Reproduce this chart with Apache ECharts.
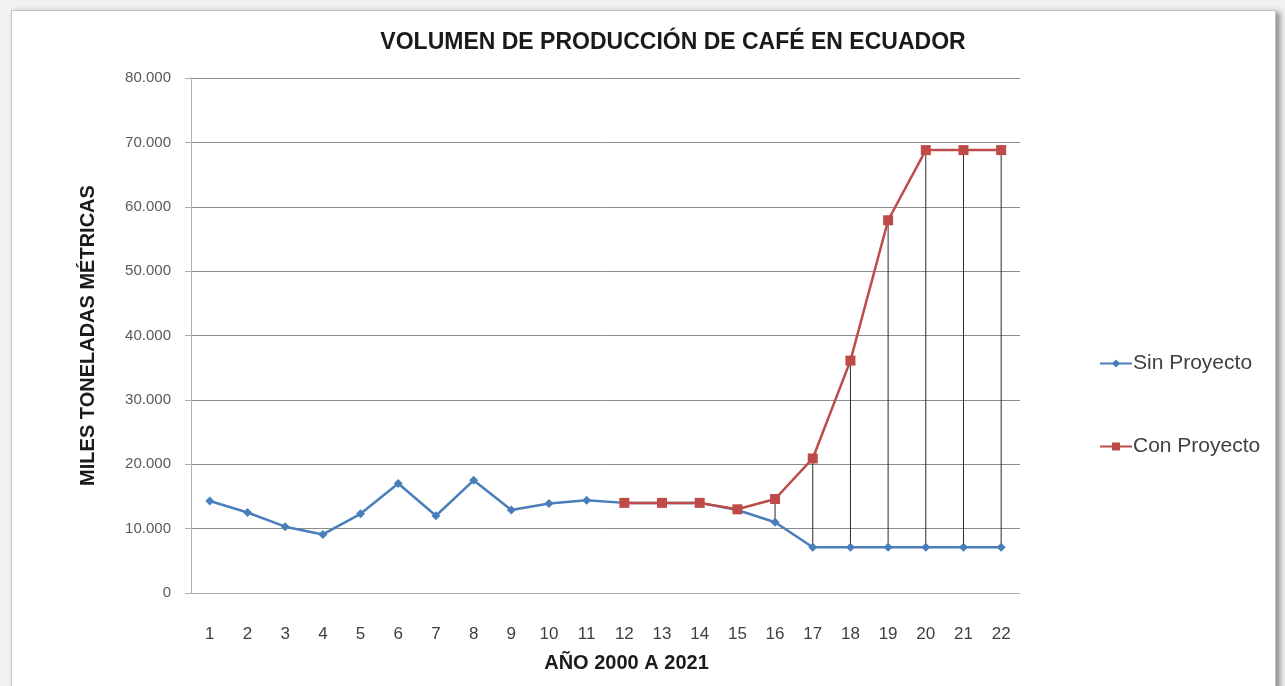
<!DOCTYPE html>
<html>
<head>
<meta charset="utf-8">
<script src="https://cdn.jsdelivr.net/npm/echarts@6/dist/echarts.min.js"></script>
<style>
    html, body { margin: 0; padding: 0; background: #f2f2f2; overflow: hidden; }
    #frame {
        position: absolute; left: 11px; top: 10px; width: 1263px; height: 700px;
        background: #fff; border: 1px solid #c4c4c4;
        box-shadow: 4px 2px 6px #8a8a8a;
    }
    #chart { position: absolute; left: 0; top: 0; width: 1285px; height: 686px; }
</style>
</head>
<body>
<div id="frame"></div>
<div id="chart"></div>
<script>
const years = ["1", "2", "3", "4", "5", "6", "7", "8", "9", "10", "11",
    "12", "13", "14", "15", "16", "17", "18", "19", "20", "21", "22"]
// miles de toneladas
const sinProyecto = [14.3, 12.5, 10.3, 9.1, 12.3, 17.0, 12.0, 17.5, 12.9, 13.9, 14.4,
    14.0, 14.0, 14.0, 12.9, 11.0, 7.1, 7.1, 7.1, 7.1, 7.1, 7.1]
const conProyecto = [null, null, null, null, null, null, null, null, null, null, null,
    14.0, 14.0, 14.0, 13.0, 14.6, 20.9, 36.1, 57.9, 68.8, 68.8, 68.8]
const yTicks = [0, 10, 20, 30, 40, 50, 60, 70, 80]

const font = "'Liberation Sans', sans-serif"

// lineas de maximos y minimos entre las dos series
const hiLo = years.map((y, i) => conProyecto[i] == null ? [i, null, null] : [i, sinProyecto[i], conProyecto[i]])

const chart = echarts.init(document.getElementById("chart"))
const option = {
    animation: false,
    title: {
        text: "VOLUMEN DE PRODUCCIÓN DE CAFÉ EN ECUADOR",
        left: 668,
        textAlign: "center",
        top: 26,
        textStyle: { fontFamily: font, fontSize: 23, fontWeight: "bold", color: "#1a1a1a" }
    },
    legend: {
        orient: "vertical",
        left: 1094,
        top: 348,
        itemGap: 62,
        itemWidth: 32,
        itemHeight: 10,
        textStyle: { fontFamily: font, fontSize: 21, color: "#404040", padding: [0, 0, 0, -4] },
        data: ["Sin Proyecto", "Con Proyecto"]
    },
    grid: { left: 191, right: 265, top: 78, bottom: 93 },
    xAxis: {
        type: "category",
        data: years,
        name: "AÑO 2000 A 2021",
        nameLocation: "middle",
        nameGap: 60,
        nameTextStyle: { fontFamily: font, fontSize: 20, fontWeight: "bold", color: "#1a1a1a", padding: [0, 0, 0, 42] },
        axisLine: { lineStyle: { color: "#b0b0b0", width: 1 } },
        axisTick: { show: false },
        axisLabel: { fontFamily: font, fontSize: 17, color: "#404040", margin: 33 }
    },
    yAxis: {
        type: "value",
        min: 0,
        max: 80,
        interval: 10,
        name: "MILES TONELADAS MÉTRICAS",
        nameLocation: "middle",
        nameGap: 93,
        nameTextStyle: { fontFamily: font, fontSize: 20, fontWeight: "bold", color: "#1a1a1a" },
        axisLine: { show: true, lineStyle: { color: "#b0b0b0", width: 1 } },
        axisTick: { show: true, length: 6, lineStyle: { color: "#b0b0b0" } },
        axisLabel: {
            fontFamily: font, fontSize: 15, color: "#595959", margin: 20,
            formatter: v => yTicks.includes(v) ? (v === 0 ? "0" : v + ".000") : ""
        },
        splitLine: { lineStyle: { color: "#8c8c8c", width: 1 } }
    },
    series: [
        {
            name: "hilo",
            type: "custom",
            data: hiLo,
            z: 1,
            silent: true,
            renderItem: (params, api) => {
                if (api.value(1) == null || isNaN(api.value(1))) return
                const a = api.coord([api.value(0), api.value(1)])
                const b = api.coord([api.value(0), api.value(2)])
                return {
                    type: "line",
                    shape: { x1: a[0], y1: a[1], x2: b[0], y2: b[1] },
                    style: { stroke: "#2b2b2b", lineWidth: 1 }
                }
            }
        },
        {
            name: "Sin Proyecto",
            type: "line",
            data: sinProyecto,
            z: 2,
            symbol: "diamond",
            symbolSize: 9,
            itemStyle: { color: "#4a7ebb" },
            lineStyle: { color: "#4a7ebb", width: 2.5 }
        },
        {
            name: "Con Proyecto",
            type: "line",
            data: conProyecto,
            z: 3,
            symbol: "rect",
            symbolSize: 10,
            itemStyle: { color: "#be4b48" },
            lineStyle: { color: "#be4b48", width: 2.5 }
        }
    ]
}
chart.setOption(option)
</script>
</body>
</html>
